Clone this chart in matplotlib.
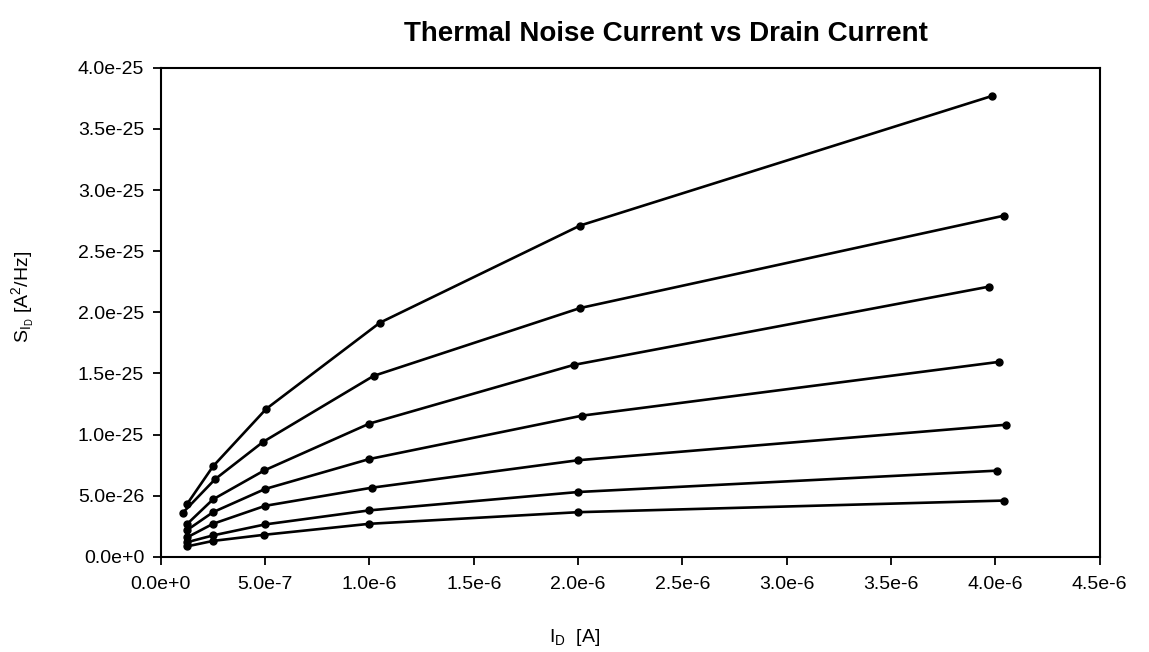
import numpy as np
import matplotlib
matplotlib.use("Agg")
import matplotlib.pyplot as plt
from matplotlib.ticker import FuncFormatter, MultipleLocator

plt.rcParams['font.family'] = ['Liberation Sans', 'DejaVu Sans']
plt.rcParams['mathtext.fontset'] = 'custom'
plt.rcParams['mathtext.rm'] = 'Liberation Sans'
plt.rcParams['mathtext.it'] = 'Liberation Sans'

# drain current [A] and thermal noise PSD [A^2/Hz] for each curve
id_1 = [1.25e-7, 2.5e-7, 5.05e-7, 1.05e-6, 2.01e-6, 3.985e-6]
sid_1 = [4.3e-26, 7.4e-26, 1.21e-25, 1.915e-25, 2.71e-25, 3.77e-25]

id_2 = [1.05e-7, 2.6e-7, 4.9e-7, 1.02e-6, 2.01e-6, 4.04e-6]
sid_2 = [3.6e-26, 6.35e-26, 9.4e-26, 1.48e-25, 2.035e-25, 2.79e-25]

id_3 = [1.27e-7, 2.5e-7, 4.95e-7, 1.0e-6, 1.98e-6, 3.97e-6]
sid_3 = [2.7e-26, 4.7e-26, 7.06e-26, 1.09e-25, 1.57e-25, 2.21e-25]

id_4 = [1.27e-7, 2.5e-7, 5.0e-7, 1.0e-6, 2.02e-6, 4.02e-6]
sid_4 = [2.2e-26, 3.65e-26, 5.55e-26, 8.0e-26, 1.155e-25, 1.595e-25]

id_5 = [1.27e-7, 2.5e-7, 5.0e-7, 1.01e-6, 2.0e-6, 4.05e-6]
sid_5 = [1.6e-26, 2.7e-26, 4.17e-26, 5.65e-26, 7.9e-26, 1.08e-25]

id_6 = [1.27e-7, 2.5e-7, 5.0e-7, 1.0e-6, 2.0e-6, 4.01e-6]
sid_6 = [1.2e-26, 1.75e-26, 2.65e-26, 3.8e-26, 5.3e-26, 7.05e-26]

id_7 = [1.25e-7, 2.5e-7, 4.95e-7, 1.0e-6, 2.0e-6, 4.04e-6]
sid_7 = [0.85e-26, 1.3e-26, 1.8e-26, 2.7e-26, 3.65e-26, 4.6e-26]

curves = [(id_1, sid_1), (id_2, sid_2), (id_3, sid_3), (id_4, sid_4),
          (id_5, sid_5), (id_6, sid_6), (id_7, sid_7)]


def sci(v, pos):
    if v == 0:
        return "0.0e+0"
    exp = int(np.floor(np.log10(abs(v)) + 1e-9))
    mant = v / 10.0 ** exp
    sign = "+" if exp >= 0 else "-"
    return "%.1fe%s%d" % (mant, sign, abs(exp))


fig = plt.figure(figsize=(11.49, 6.52), dpi=100)
ax = fig.add_axes([0.140, 0.146, 0.817, 0.750])

for x, y in curves:
    ax.plot(x, y, color='black', lw=1.9, marker='o', ms=5)

ax.set_xlim(0, 4.5e-6)
ax.set_ylim(0, 4.0e-25)
ax.xaxis.set_major_locator(MultipleLocator(5e-7))
ax.yaxis.set_major_locator(MultipleLocator(5e-26))
ax.xaxis.set_major_formatter(FuncFormatter(sci))
ax.yaxis.set_major_formatter(FuncFormatter(sci))
ax.tick_params(direction='out', length=6, width=1.3, labelsize=14, pad=6)
ax.tick_params(axis='x', pad=8)
for s in ax.spines.values():
    s.set_linewidth(1.5)

fig.text(0.580, 0.948, "Thermal Noise Current vs Drain Current",
         ha='center', va='center', fontsize=20, fontweight='bold')
fig.text(0.020, 0.545, r"$\mathrm{S_{I_D}}$ [A$^2$/Hz]", rotation=90,
         ha='center', va='center', fontsize=14)
fig.text(0.500, 0.023, r"$\mathrm{I_D}$  [A]", ha='center', va='center',
         fontsize=14)

fig.savefig("out.png", dpi=100)
